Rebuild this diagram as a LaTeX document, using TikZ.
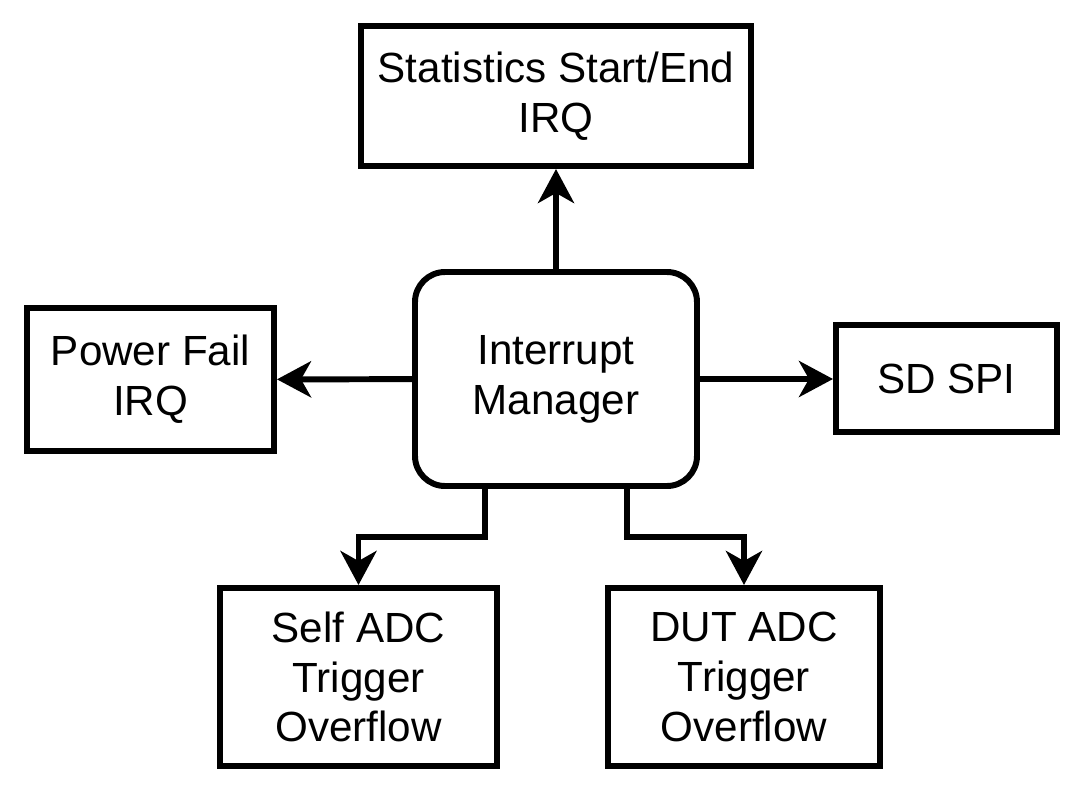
\documentclass[tikz,border=0pt]{standalone}
\usepackage{fontspec}
\setmainfont{Liberation Sans}
\usetikzlibrary{arrows.meta}

\tikzset{
	block/.style={draw,line width=1.7pt,align=center,font=\fontsize{12}{14.2}\selectfont,inner sep=0pt},
	link/.style={line width=1.7pt,-{Stealth[length=0.34cm,width=0.36cm,inset=0.1cm]}}
}

\begin{document}
\begin{tikzpicture}
			\useasboundingbox (0,0) rectangle (10.87,-7.96);
			\begin{scope}[every node/.style={block}]
				\node[rounded corners=0.3cm,minimum width=2.82cm,minimum height=2.14cm] (im) at (5.56,-3.79) {Interrupt\\Manager};
				\node[minimum width=3.90cm,minimum height=1.40cm] (stats) at (5.56,-0.96) {Statistics Start/End\\IRQ};
				\node[minimum width=2.47cm,minimum height=1.43cm] (power) at (1.505,-3.795) {Power Fail\\IRQ};
				\node[minimum width=2.21cm,minimum height=1.07cm] (sd) at (9.465,-3.785) {SD SPI};
				\node[minimum width=2.77cm,minimum height=1.78cm] (self) at (3.585,-6.77) {Self ADC\\Trigger\\Overflow};
				\node[minimum width=2.72cm,minimum height=1.78cm] (dut) at (7.44,-6.77) {DUT ADC\\Trigger\\Overflow};
			\end{scope}
			
			\begin{scope}
				\draw[link] (im) -- (stats);
				\draw[link] (im) -- (power);
				\draw[link] (im.east) -- (sd.west |- im.east);
				\draw[link] (im.south -| 4.85,0) -- (4.85,-5.37) -| (self);
				\draw[link] (im.south -| 6.27,0) -- (6.27,-5.37) -| (dut);
			\end{scope}
		\end{tikzpicture}
\end{document}
